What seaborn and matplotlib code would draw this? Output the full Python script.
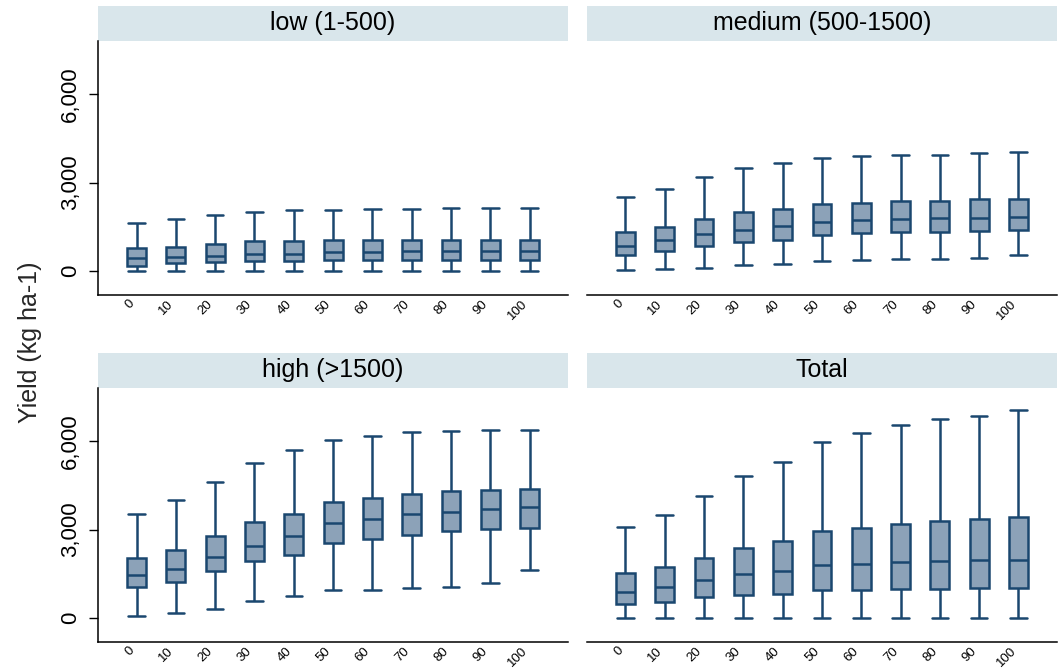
import numpy as np
import pandas as pd
import matplotlib
matplotlib.use("Agg")
import matplotlib.pyplot as plt
import seaborn as sns
from matplotlib.patches import Rectangle
from matplotlib.ticker import FuncFormatter

levels = ["0", "10", "20", "30", "40", "50", "60", "70", "80", "90", "100"]
panels = ["low (1-500)", "medium (500-1500)", "high (>1500)", "Total"]

# five-number summaries (kg/ha)
low_min = [0, 0, 0, 0, 0, 0, 0, 0, 0, 0, 0]
low_q1 = [170, 260, 280, 320, 320, 355, 365, 365, 365, 365, 365]
low_med = [420, 455, 510, 560, 570, 625, 650, 660, 685, 685, 685]
low_q3 = [775, 820, 910, 1000, 1025, 1050, 1050, 1050, 1050, 1050, 1050]
low_max = [1630, 1745, 1900, 2005, 2050, 2075, 2100, 2100, 2120, 2120, 2120]

med_min = [25, 57, 100, 195, 230, 330, 375, 400, 400, 420, 545]
med_q1 = [535, 670, 830, 970, 1035, 1210, 1265, 1300, 1310, 1345, 1370]
med_med = [855, 1040, 1255, 1400, 1505, 1655, 1735, 1755, 1800, 1800, 1835]
med_q3 = [1300, 1495, 1765, 1985, 2100, 2280, 2315, 2360, 2380, 2430, 2440]
med_max = [2500, 2770, 3200, 3500, 3670, 3830, 3890, 3935, 3955, 4000, 4035]

high_min = [57, 150, 285, 555, 725, 930, 955, 1020, 1045, 1170, 1635]
high_q1 = [1035, 1225, 1580, 1930, 2145, 2545, 2690, 2815, 2940, 3010, 3065]
high_med = [1455, 1660, 2055, 2455, 2795, 3215, 3375, 3535, 3600, 3690, 3770]
high_q3 = [2020, 2295, 2795, 3270, 3545, 3930, 4090, 4215, 4305, 4330, 4395]
high_max = [3535, 4000, 4635, 5260, 5725, 6045, 6180, 6305, 6340, 6375, 6385]

tot_min = [0, 0, 0, 0, 0, 0, 0, 0, 0, 0, 0]
tot_q1 = [475, 545, 705, 785, 820, 930, 955, 990, 990, 1000, 1000]
tot_med = [875, 1035, 1285, 1475, 1580, 1795, 1830, 1910, 1930, 1955, 1975]
tot_q3 = [1535, 1725, 2045, 2375, 2625, 2955, 3065, 3205, 3295, 3350, 3420]
tot_max = [3090, 3500, 4145, 4815, 5305, 5985, 6280, 6555, 6760, 6860, 7065]

summaries = {
    panels[0]: (low_min, low_q1, low_med, low_q3, low_max),
    panels[1]: (med_min, med_q1, med_med, med_q3, med_max),
    panels[2]: (high_min, high_q1, high_med, high_q3, high_max),
    panels[3]: (tot_min, tot_q1, tot_med, tot_q3, tot_max),
}

# long table: 5 values per box, so quartiles/whiskers land on the summary
rows = []
for panel, cols in summaries.items():
    for i, lev in enumerate(levels):
        for c in cols:
            rows.append((panel, lev, c[i]))
df = pd.DataFrame(rows, columns=["panel", "level", "yield"])

navy = "#1a476f"
fill = "#8ca2b8"
strip = "#d9e6eb"

sns.set_style("white")
plt.rcParams["font.family"] = ["Liberation Sans", "DejaVu Sans"]

fig, axes = plt.subplots(2, 2, figsize=(10.62, 6.71), dpi=100, sharey=True)
fig.subplots_adjust(left=0.0923, right=0.9953, bottom=0.0432, top=0.9389,
                    wspace=0.040, hspace=0.366)

for ax, panel in zip(axes.flat, panels):
    sub = df[df["panel"] == panel]
    sns.boxplot(data=sub, x="level", y="yield", order=levels, ax=ax,
                color=fill, linecolor=navy, saturation=1, width=0.48,
                whis=(0, 100), linewidth=1.8, fliersize=0, capwidths=0.42)
    ax.set_xlim(-0.98, 10.98)
    ax.set_ylim(-830, 7820)
    ax.set_xlabel("")
    ax.set_ylabel("")
    ax.set_yticks([0, 3000, 6000])
    ax.yaxis.set_major_formatter(FuncFormatter(lambda v, p: f"{v:,.0f}"))
    ax.tick_params(axis="x", length=0, pad=2, labelsize=9.5, labelcolor="black")
    for lab in ax.get_xticklabels():
        lab.set_rotation(45)
        lab.set_ha("right")
    sns.despine(ax=ax, top=True, right=True)
    for s in ["left", "bottom"]:
        ax.spines[s].set_color("black")
        ax.spines[s].set_linewidth(1.1)

    ax.add_patch(Rectangle((0, 1), 1, 35 / 254, transform=ax.transAxes,
                           facecolor=strip, edgecolor="none", clip_on=False))
    ax.text(0.5, 1 + 17.5 / 254, panel, transform=ax.transAxes,
            ha="center", va="center", fontsize=18, color="black")

for ax in axes[:, 0]:
    ax.tick_params(axis="y", length=6.5, width=1, pad=6, labelsize=16,
                   direction="out", left=True, color="black", labelcolor="black")
    for lab in ax.get_yticklabels():
        lab.set_rotation(90)
        lab.set_va("center")

for ax in axes[:, 1]:
    ax.spines["left"].set_visible(False)
    ax.tick_params(axis="y", left=False, labelleft=False)

fig.text(0.028, 1 - 342 / 671, "Yield (kg ha-1)", rotation=90,
         ha="center", va="center", fontsize=18)

fig.savefig("out.png", dpi=100)
